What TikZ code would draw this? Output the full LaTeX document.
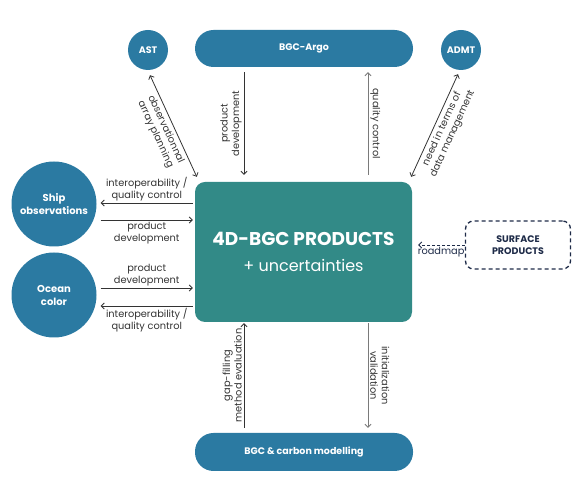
\documentclass[tikz,border=0pt]{standalone}
\usepackage{fontspec}
\setmainfont{Poppins}
\usetikzlibrary{arrows.meta,positioning,calc}

\definecolor{argoblue}{HTML}{2B7AA2}
\definecolor{prodteal}{HTML}{328A87}
\definecolor{navy}{HTML}{1E2B48}
\definecolor{arrdark}{HTML}{333333}
\definecolor{arrlight}{HTML}{7A7A7A}

\begin{document}
\begin{tikzpicture}[x=1pt, y=1pt,
  blob/.style={circle, fill=argoblue, text=white, align=center, inner sep=0pt, font=\bfseries\fontsize{9.5}{12}\selectfont},
  pill/.style={fill=argoblue, text=white, rounded corners=18.5pt, minimum width=218pt, minimum height=37pt, font=\bfseries\fontsize{9.5}{12}\selectfont},
  lbl/.style={align=center, text=arrdark, inner sep=2pt, font=\fontsize{9.8}{11.4}\selectfont},
  arr/.style={-{Straight Barb[length=3pt,width=6pt]}, line width=0.8pt, draw=arrdark},
  lightarr/.style={arr, draw=arrlight},
  dblarr/.style={{Straight Barb[length=3pt,width=6pt]}-{Straight Barb[length=3pt,width=6pt]}, line width=0.8pt, draw=arrdark},
  dasharr/.style={arr, draw=navy, dash pattern=on 3pt off 2pt}
]
\useasboundingbox (0,0) rectangle (587,479);

% central product box
\node[fill=prodteal, text=white, rounded corners=10pt, minimum width=217pt, minimum height=140pt, align=center,
  font=\fontsize{16}{26}\selectfont] (main) at (303.5,227)
  {{\bfseries\fontsize{18.5}{26}\selectfont 4D-BGC PRODUCTS}\\{+ uncertainties}};

% top row
\node[pill] (argo) at (304,430.5) {BGC-Argo};
\node[blob, minimum size=40pt] (ast) at (148,429) {AST};
\node[blob, minimum size=40pt] (admt) at (461,429) {ADMT};

% left column
\node[blob, minimum size=85pt, font=\bfseries\fontsize{10}{13}\selectfont] (ship) at (54,275) {Ship\\observations};
\node[blob, minimum size=85pt, font=\bfseries\fontsize{10}{13}\selectfont] (ocean) at (54,184) {Ocean\\color};

% right and bottom
\node[draw=navy, dash pattern=on 4pt off 3pt, line width=1.3pt, rounded corners=8pt, minimum width=105pt, minimum height=48pt,
  text=navy, align=center, font=\bfseries\fontsize{9.5}{11.5}\selectfont] (surf) at (518,234) {SURFACE\\PRODUCTS};
\node[pill, minimum height=38pt] (model) at (304,27) {BGC \& carbon modelling};

% BGC-Argo links
\draw[arr] ([xshift=-60pt,yshift=-5pt]argo.south) -- ([xshift=-59.5pt,yshift=7pt]main.north)
  node[lbl, midway, rotate=90, anchor=south] {product\\development};
\draw[lightarr] ([xshift=64.5pt,yshift=7pt]main.north) -- ([xshift=64pt,yshift=-5pt]argo.south)
  node[lbl, midway, rotate=-90, anchor=south] {quality control};

% diagonal links
\draw[dblarr] ($(ast.south)+(2,-5)$) -- ($(main.north west)+(2,5)$)
  node[lbl, midway, sloped, below=1pt] {observationnal\\array planning};
\draw[dblarr] ($(main.north east)+(-1,5)$) -- ($(admt.south)+(-3,-4)$)
  node[lbl, midway, sloped, below=1pt] {need in terms of\\data management};

% ship observations
\draw[arr] ($(main.west)+(-2,49)$) -- ($(ship.east)+(4,1)$)
  node[lbl, midway, above] {interoperability /\\quality control};
\draw[arr] ($(ship.east)+(4,-16)$) -- ($(main.west)+(-2,32)$)
  node[lbl, midway, below] {product\\development};

% ocean color
\draw[arr] ($(ocean.east)+(4,7)$) -- ($(main.west)+(-2,-36)$)
  node[lbl, midway, above] {product\\development};
\draw[arr] ($(main.west)+(-2,-54)$) -- ($(ocean.east)+(4,-11)$)
  node[lbl, midway, below] {interoperability /\\quality control};

% surface products
\draw[dasharr, shorten >=6pt] (surf.west) -- (surf.west -| main.east)
  node[lbl, pos=0.45, below, text=navy] {roadmap};

% modelling links
\draw[arr] ([xshift=-60pt,yshift=5pt]model.north) -- ([xshift=-59.5pt,yshift=-1pt]main.south)
  node[lbl, midway, rotate=90, anchor=south] {gap-filling\\method evaluation};
\draw[lightarr] ([xshift=64.5pt,yshift=-1pt]main.south) -- ([xshift=64pt,yshift=5pt]model.north)
  node[lbl, midway, rotate=-90, anchor=south] {initialization\\validation};

\end{tikzpicture}
\end{document}
